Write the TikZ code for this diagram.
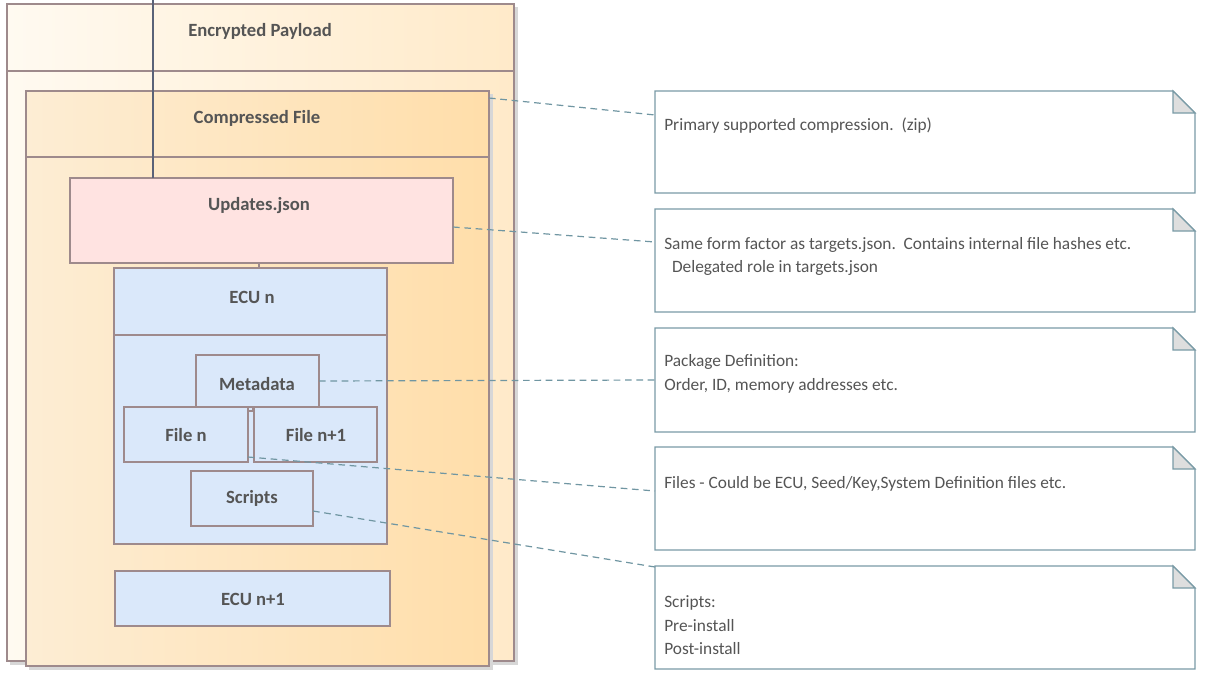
\documentclass[tikz,border=0pt]{standalone}
\usepackage{fontspec}
\setmainfont{Carlito}
\usetikzlibrary{calc}

\definecolor{boxline}{RGB}{158,138,140}
\definecolor{labeltext}{RGB}{85,85,85}
\definecolor{linkblue}{RGB}{112,150,162}
\definecolor{noteline}{RGB}{122,155,166}
\definecolor{foldgray}{RGB}{222,222,222}
\definecolor{stemline}{RGB}{90,98,120}
\definecolor{shadowgray}{RGB}{215,215,215}
\definecolor{payleft}{RGB}{255,250,241}
\definecolor{payright}{RGB}{255,234,201}
\definecolor{zipleft}{RGB}{253,237,212}
\definecolor{zipright}{RGB}{255,222,170}
\definecolor{updfill}{RGB}{255,227,225}
\definecolor{ecufill}{RGB}{218,232,250}

\tikzset{
  box/.style={draw=boxline, line width=0.9pt},
  stem/.style={draw=stemline, line width=0.9pt},
  title/.style={font=\bfseries\fontsize{14}{16}\selectfont, text=labeltext},
  link/.style={draw=linkblue, line width=0.9pt, dash pattern=on 5pt off 3.5pt},
  notebox/.style={draw=noteline, fill=white, line width=0.9pt},
  notetext/.style={font=\fontsize{13}{17.6}\selectfont, text=labeltext, align=left, anchor=west, inner sep=0pt}
}

% note with folded corner: #1 name, #2 top, #3 bottom
\newcommand{\drawnote}[3]{%
  \draw[notebox] (655,#2) coordinate (#1nw) -- (1173,#2) -- (1195,#2+22) -- (1195,#3) -- (655,#3) -- cycle;
  \draw[notebox, fill=foldgray] (1173,#2) -- (1173,#2+22) -- (1195,#2+22) -- cycle;
}

\begin{document}
\begin{tikzpicture}[x=0.75pt, y=-0.75pt]
	\useasboundingbox[fill=white] (0,0) rectangle (1205,678);

	% Encrypted Payload
	\fill[shadowgray] (10,7) rectangle (518,665);
	\shade[left color=payleft, right color=payright] (7,4) rectangle (514,661);
	\draw[box] (7,4) coordinate (EPnw) rectangle (514,661) coordinate (EPse);
	\draw[box] (7,71) -- (514,71);
	\node[title] (EP) at (260,31) {Encrypted Payload};

	% Compressed File
	\fill[shadowgray] (29,94) rectangle (493,670);
	\shade[left color=zipleft, right color=zipright] (26,91) rectangle (489,666);
	\draw[box] (26,91) coordinate (CFnw) rectangle (489,666) coordinate (CFse);
	\draw[box] (26,157) -- (489,157);
	\node[title] (CF) at (257,118) {Compressed File};
	\coordinate (CFlink) at (489,98);

	% Updates.json
	\draw[box, fill=updfill] (70,178) coordinate (UPnw) rectangle (453,263) coordinate (UPse);
	\node[title] (UP) at (259,206) {Updates.json};
	\coordinate (UPlink) at (453,227);

	% ECU n
	\draw[box, fill=ecufill] (114,268) coordinate (ECnw) rectangle (387,544) coordinate (ECse);
	\draw[box] (114,335) -- (387,335);
	\node[title] (EC) at (252,297) {ECU n};

	\draw[box, fill=ecufill] (196,355) coordinate (MDnw) rectangle (319,407) coordinate (MDse);
	\node[title] (MD) at (257,384) {Metadata};
	\coordinate (MDlink) at (319,381);

	\draw[box, fill=ecufill] (124,407) coordinate (FAnw) rectangle (248,462) coordinate (FAse);
	\node[title] (FA) at (186,435) {File n};
	\coordinate (FAlink) at (248,457);

	\draw[box, fill=ecufill] (254,407) coordinate (FBnw) rectangle (377,462) coordinate (FBse);
	\node[title] (FB) at (316,435) {File n+1};

	\draw[box] (253,407) -- (253,411) -- (248,411);

	\draw[box, fill=ecufill] (191,471) coordinate (SCnw) rectangle (313,526) coordinate (SCse);
	\node[title] (SC) at (252,498) {Scripts};
	\coordinate (SClink) at (313,511);

	% ECU n+1
	\draw[box, fill=ecufill] (115,571) coordinate (ENnw) rectangle (390,626) coordinate (ENse);
	\node[title] (EN) at (253,599) {ECU n+1};

	% stems
	\coordinate (top) at (153,0);
	\draw[stem] (top) -- (top |- UPnw);
	\coordinate (UPbot) at (259,263);
	\draw[box] (UPbot) -- (UPbot |- ECnw);

	% notes
	\drawnote{NA}{91}{193}
	\drawnote{NB}{209}{312}
	\drawnote{NC}{328}{432}
	\drawnote{ND}{447}{550}
	\drawnote{NE}{566}{669}

	\node[notetext] (TA) at (664,126) {Primary supported compression.\ \ (zip)};
	\node[notetext] (TB) at (664,256.5) {Same form factor as targets.json.\ \ Contains internal file hashes etc.\\\hspace{0.45em}Delegated role in targets.json};
	\node[notetext] (TC) at (664,374) {Package Definition:\\Order, ID, memory addresses etc.};
	\node[notetext] (TD) at (664,484) {Files - Could be ECU, Seed/Key,System Definition files etc.};
	\node[notetext] (TE) at (664,625.5) {Scripts:\\Pre-install\\Post-install};

	% dashed links
	\coordinate (LA) at (655,115);
	\coordinate (LB) at (655,242);
	\coordinate (LC) at (655,380);
	\coordinate (LD) at (655,491);
	\coordinate (LE) at (655,567);
	\draw[link] (CFlink) -- (LA);
	\draw[link] (UPlink) -- (LB);
	\draw[link] (MDlink) -- (LC);
	\draw[link] (FAlink) -- (LD);
	\draw[link] (SClink) -- (LE);
\end{tikzpicture}
\end{document}
